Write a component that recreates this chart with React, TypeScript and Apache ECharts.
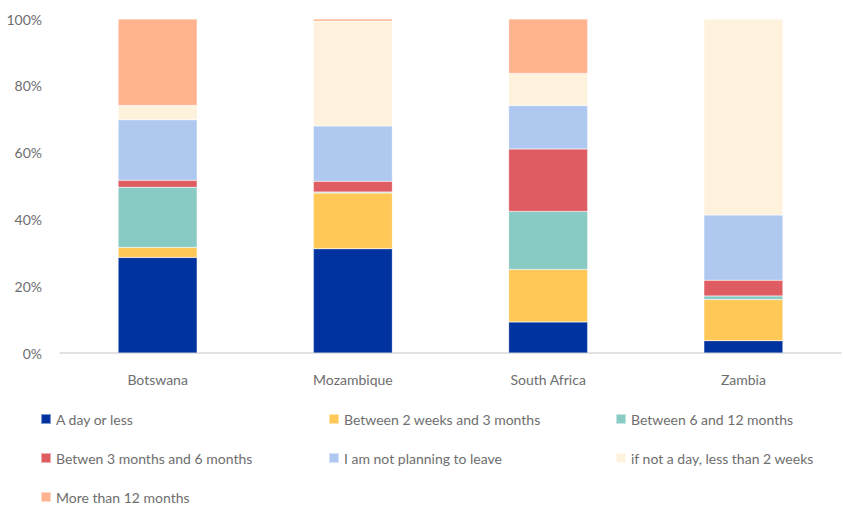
import React, { useEffect, useRef } from "react";
import * as echarts from "echarts";

const countries = ["Botswana", "Mozambique", "South Africa", "Zambia"];
const seriesNames = [
  "A day or less",
  "Between 2 weeks and 3 months",
  "Between 6 and 12 months",
  "Betwen 3 months and 6 months",
  "I am not planning to leave",
  "if not a day, less than 2 weeks",
  "More than 12 months",
];
const dayOrLess = [28.6, 31.2, 9.3, 3.7];
const weeks2to3m = [3.0, 16.7, 15.7, 12.3];
const months6to12 = [18.0, 0.3, 17.4, 1.1];
const months3to6 = [2.1, 3.2, 18.7, 4.7];
const notLeaving = [18.1, 16.6, 13.0, 19.5];
const lessThan2w = [4.3, 31.3, 9.6, 58.7];
const moreThan12m = [25.9, 0.7, 16.3, 0];
const yTicks = [0, 20, 40, 60, 80, 100];

const seriesValues = [dayOrLess, weeks2to3m, months6to12, months3to6, notLeaving, lessThan2w, moreThan12m];
const colors = ["#0033A0", "#FFC857", "#88CAC4", "#DE5C62", "#AEC8EF", "#FFF2DC", "#FFB38F"];

const FONT = "Lato";
const TXT = "#6E6E6E";

export default function App() {
  const ref = useRef<HTMLDivElement>(null);
  useEffect(() => {
    if (!ref.current) return;
    const chart = echarts.init(ref.current, null, { renderer: "svg" });
    const cols = [40, 328, 615];
    const rows = [412, 451, 490];
    const legendPos = [
      [cols[0], rows[0]], [cols[1], rows[0]], [cols[2], rows[0]],
      [cols[0], rows[1]], [cols[1], rows[1]], [cols[2], rows[1]],
      [cols[0], rows[2]],
    ];
    chart.setOption({
      animation: false,
      color: colors,
      textStyle: { fontFamily: FONT },
      grid: { left: 60, right: 2, top: 19, bottom: 512 - 353, containLabel: false },
      legend: seriesNames.map((n, i) => ({
        data: [n],
        left: legendPos[i][0],
        top: legendPos[i][1],
        icon: "rect",
        itemWidth: 10,
        itemHeight: 10,
        padding: 0,
        textStyle: { color: TXT, fontSize: 14, fontFamily: FONT },
        selectedMode: false,
      })),
      xAxis: {
        type: "category",
        data: countries,
        axisLine: { lineStyle: { color: "#D9D9D9", width: 1.5 } },
        axisTick: { show: false },
        axisLabel: { color: TXT, fontSize: 14, fontFamily: FONT, margin: 19 },
      },
      yAxis: {
        type: "value",
        min: yTicks[0],
        max: yTicks[yTicks.length - 1],
        interval: 20,
        axisLine: { show: false },
        axisTick: { show: false },
        splitLine: { show: false },
        axisLabel: { color: TXT, fontSize: 14, fontFamily: FONT, margin: 18, formatter: "{value}%" },
      },
      series: seriesNames.map((n, i) => ({
        name: n,
        type: "bar",
        stack: "total",
        barWidth: 79,
        data: seriesValues[i],
        itemStyle: { color: colors[i], borderColor: "rgba(255,255,255,0.5)", borderWidth: 0.5 },
      })),
    });
    return () => chart.dispose();
  }, []);
  return (
    <div
      ref={ref}
      style={{ position: "fixed", left: 0, top: 0, width: 843, height: 512, background: "#fff" }}
    />
  );
}
